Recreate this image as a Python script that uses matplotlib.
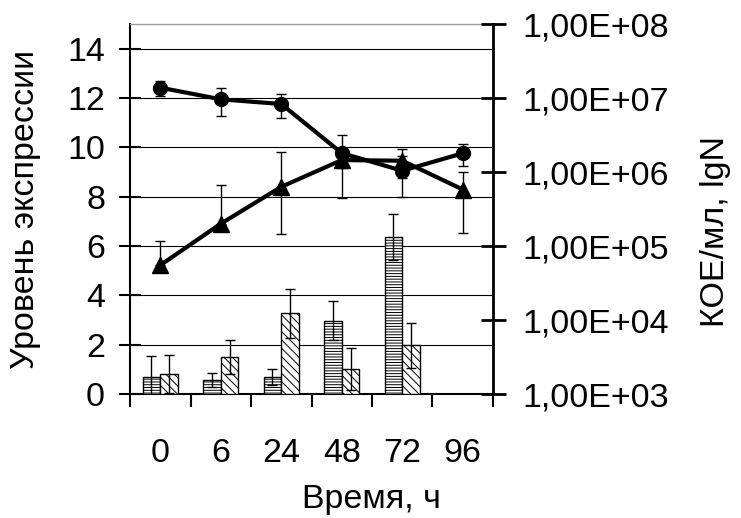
import numpy as np
import matplotlib.pyplot as plt
from matplotlib.ticker import FixedLocator, FuncFormatter

plt.rcParams['font.family'] = ['Liberation Sans', 'DejaVu Sans']
plt.rcParams['hatch.linewidth'] = 0.7

# time points (categories)
hours = ['0', '6', '24', '48', '72', '96']

# expression level, two bar series (left axis)
expr_a = [0.68, 0.57, 0.68, 2.97, 6.36, 0.0]
expr_a_err = [0.87, 0.30, 0.33, 0.80, 0.93, 0.0]
expr_b = [0.80, 1.50, 3.27, 1.03, 1.97, 0.0]
expr_b_err = [0.77, 0.70, 1.00, 0.85, 0.90, 0.0]

# CFU/ml (right axis, log)
cfu_circ = [1.38e7, 9.6e6, 8.3e6, 1.8e6, 1.04e6, 1.79e6]
cfu_circ_err = [3.0e6, 3.9e6, 2.95e6, 1.35e6, 5.8e5, 5.8e5]
cfu_tri = [5.5e4, 2.0e5, 6.3e5, 1.45e6, 1.42e6, 5.8e5]
cfu_tri_err_lo = [0.0, 0.0, 4.86e5, 3.0e5, 6.0e5, 4.3e5]
cfu_tri_err_hi = [6.05e4, 4.7e5, 1.23e6, 3.0e5, 6.0e5, 4.3e5]

FS = 24.5
x = np.arange(len(hours))
w = 0.29

fig = plt.figure(figsize=(7.41, 5.18), dpi=100)
ax = fig.add_axes([130 / 741, 1 - 394 / 518, 363 / 741, 370 / 518])

# bars with error bars
show_a = [v > 0 for v in expr_a]
show_b = [v > 0 for v in expr_b]
xa = x[show_a] - w / 2
xb = x[show_b] + w / 2
ax.bar(xa, np.array(expr_a)[show_a], w, color='white', edgecolor='black',
       hatch='------', linewidth=1.0, zorder=3)
ax.bar(xb, np.array(expr_b)[show_b], w, color='white', edgecolor='black',
       hatch='\\\\\\\\', linewidth=1.0, zorder=3)
ax.errorbar(xa, np.array(expr_a)[show_a], yerr=np.array(expr_a_err)[show_a],
            fmt='none', ecolor='black', elinewidth=1.0, capsize=3.6,
            capthick=1.0, zorder=4)
ax.errorbar(xb, np.array(expr_b)[show_b], yerr=np.array(expr_b_err)[show_b],
            fmt='none', ecolor='black', elinewidth=1.0, capsize=3.6,
            capthick=1.0, zorder=4)

ax.set_xlim(-0.5, 5.5)
ax.set_ylim(0, 15)
ax.set_yticks(range(0, 15, 2))
ax.yaxis.grid(True, color='black', linewidth=0.8)
ax.set_axisbelow(True)
ax.xaxis.set_major_locator(FixedLocator(np.arange(-0.5, 6, 1)))
ax.xaxis.set_major_formatter(FuncFormatter(lambda v, p: ''))
ax.xaxis.set_minor_locator(FixedLocator(x))
ax.set_xticklabels(hours, minor=True)
ax.tick_params(axis='x', which='major', direction='out', length=9.5, width=1.5)
ax.tick_params(axis='x', which='minor', length=0, labelsize=FS, pad=32)
ax.tick_params(axis='y', direction='inout', length=16, width=1.5,
               labelsize=FS, pad=10)
for s in ['left', 'bottom']:
    ax.spines[s].set_linewidth(1.5)
ax.spines['top'].set_color('#999999')
ax.spines['top'].set_linewidth(1.0)
ax.spines['right'].set_visible(False)
ax.set_ylabel('Уровень экспрессии', fontsize=FS, va='center', ha='center')
ax.yaxis.set_label_coords(-0.289, 0.5)
ax.set_xlabel('Время, ч', fontsize=FS, va='center', ha='center')
ax.xaxis.set_label_coords(0.664, -0.286)

# bacterial counts on log axis
ax2 = ax.twinx()
ax2.set_yscale('log')
ax2.set_ylim(1e3, 1e8)
ax2.errorbar(x, cfu_circ, yerr=cfu_circ_err, color='black', lw=3,
             marker='o', markersize=10, ecolor='black', elinewidth=1.0,
             capsize=3.6, capthick=1.0)
ax2.errorbar(x, cfu_tri, yerr=[cfu_tri_err_lo, cfu_tri_err_hi], color='black',
             lw=3, marker='^', markersize=12, ecolor='black', elinewidth=1.0,
             capsize=3.6, capthick=1.0)
ax2.yaxis.set_major_locator(FixedLocator([1e3, 1e4, 1e5, 1e6, 1e7, 1e8]))
ax2.yaxis.set_minor_locator(FixedLocator([]))
ax2.yaxis.set_major_formatter(FuncFormatter(
    lambda v, p: '1,00E+%02d' % int(round(np.log10(v)))))
ax2.tick_params(axis='y', direction='inout', length=18, width=2,
                labelsize=FS, pad=12)
ax2.spines['right'].set_linewidth(2)
ax2.spines['top'].set_visible(False)
for s in ['left', 'bottom']:
    ax2.spines[s].set_visible(False)
ax2.set_ylabel('КОЕ/мл, lgN', fontsize=FS, va='center', ha='center')
ax2.yaxis.set_label_coords(1.612, 0.44)

fig.savefig('out.png', dpi=100)
